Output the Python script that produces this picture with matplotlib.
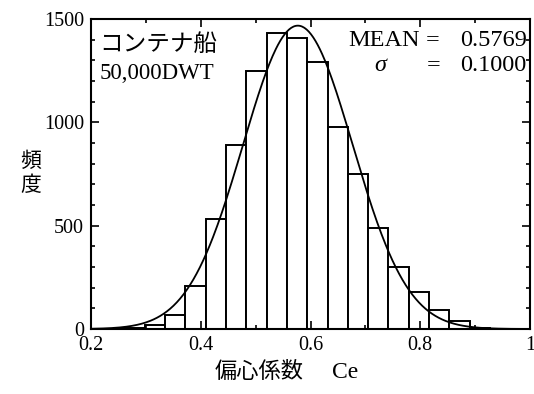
import numpy as np
import matplotlib
matplotlib.use("Agg")
import matplotlib.pyplot as plt
from matplotlib.ticker import MultipleLocator

# histogram (bin edges start at 0.224, width 0.037)
bin_start = 0.224
bin_width = 0.037
counts = [2, 5, 20, 70, 210, 530, 890, 1250, 1434, 1406, 1293, 979,
          750, 487, 298, 180, 92, 40, 6, 2]

# fitted normal shown on the chart
mean_ce = 0.5769
sigma_ce = 0.1000
total = sum(counts)

serif = "Liberation Serif"
jp = ["Noto Sans CJK JP", "DejaVu Sans"]

fig = plt.figure(figsize=(5.34, 3.94), dpi=100)
ax = fig.add_axes([91 / 534, 65 / 394, 439 / 534, 310 / 394])

edges = bin_start + bin_width * np.arange(len(counts))
ax.bar(edges, counts, width=bin_width, align="edge",
       facecolor="white", edgecolor="black", linewidth=1.4)

x = np.linspace(0.2, 1.0, 400)
pdf = total * bin_width / (sigma_ce * np.sqrt(2 * np.pi)) * \
    np.exp(-0.5 * ((x - mean_ce) / sigma_ce) ** 2)
ax.plot(x, pdf, color="black", linewidth=1.3)

ax.set_xlim(0.2, 1.0)
ax.set_ylim(0, 1500)
ax.xaxis.set_major_locator(MultipleLocator(0.2))
ax.xaxis.set_minor_locator(MultipleLocator(0.1))
ax.yaxis.set_major_locator(MultipleLocator(500))
ax.yaxis.set_minor_locator(MultipleLocator(100))
ax.set_xticks([0.2, 0.4, 0.6, 0.8, 1.0], ["0.2", "0.4", "0.6", "0.8", "1"])
ax.tick_params(which="both", direction="in", top=True, right=True,
               color="black", width=1.2)
ax.tick_params(which="major", length=6, labelsize=14.5)
ax.tick_params(axis="x", which="major", pad=5)
ax.tick_params(axis="y", which="major", pad=5)
ax.tick_params(which="minor", length=3)
for lab in ax.get_xticklabels() + ax.get_yticklabels():
    lab.set_family(serif)
for s in ax.spines.values():
    s.set_linewidth(1.5)

# annotations
ax.text(0.215, 1375, "コンテナ船", family=jp, fontsize=17,
        ha="left", va="center")
ax.text(0.215, 1238, "50,000DWT", family=serif, fontsize=16.5,
        ha="left", va="center")
ax.text(0.7985, 1398, "MEAN", family=serif, fontsize=17.5,
        ha="right", va="center")
ax.text(0.822, 1398, "=", family=serif, fontsize=17.5,
        ha="center", va="center")
ax.text(0.994, 1398, "0.5769", family=serif, fontsize=17.5,
        ha="right", va="center")
ax.text(0.7264, 1277, "σ", family=serif, fontsize=17.5, style="italic",
        ha="center", va="center")
ax.text(0.825, 1277, "=", family=serif, fontsize=17.5,
        ha="center", va="center")
ax.text(0.994, 1277, "0.1000", family=serif, fontsize=17.5,
        ha="right", va="center")

fig.text(31 / 534, 1 - 173 / 394, "頻\n度", family=jp, fontsize=15,
         ha="center", va="center", linespacing=1.1)
fig.text(215 / 534, 1 - 372 / 394, "偏心係数", family=jp, fontsize=16,
         ha="left", va="center")
fig.text(358 / 534, 1 - 372 / 394, "Ce", family=serif, fontsize=17,
         ha="right", va="center")

fig.savefig("out.png", dpi=100, facecolor="white")
